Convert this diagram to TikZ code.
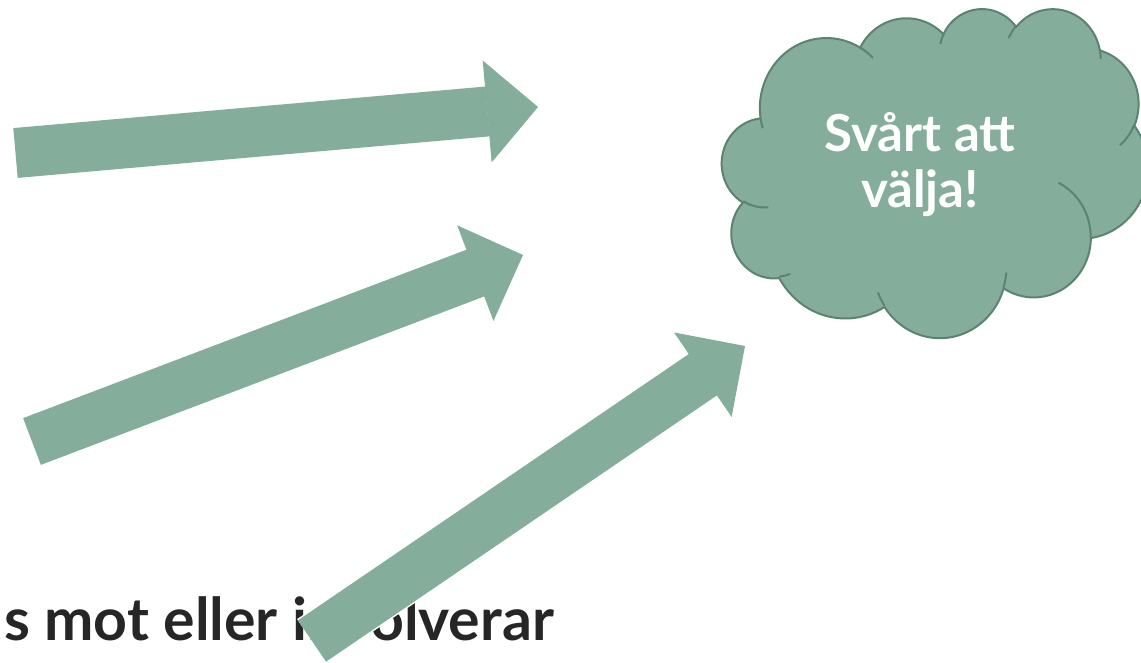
\documentclass[tikz,border=0pt]{standalone}
\usepackage{fontspec}
\setmainfont{Lato}
\usetikzlibrary{arrows.meta}
\definecolor{sage}{HTML}{84AD9C}
\definecolor{sagedark}{HTML}{5E8272}
\definecolor{ink}{HTML}{262626}
\newcommand\puff[4]{arc[x radius=#1,y radius=#2,
  start angle={atan2((#1)*sin(#3),(#2)*cos(#3))},
  delta angle={atan2((#1)*sin((#3)+(#4)),(#2)*cos((#3)+(#4)))-atan2((#1)*sin(#3),(#2)*cos(#3))-360*round((atan2((#1)*sin((#3)+(#4)),(#2)*cos((#3)+(#4)))-atan2((#1)*sin(#3),(#2)*cos(#3))-(#4))/360)}]}
\begin{document}
\begin{tikzpicture}[x=1pt,y=-1pt,
    bigarrow/.style={draw=sage,line width=50pt,-{Triangle[length=51pt,width=102pt,line width=1pt]},
      preaction={draw=white,line width=53pt,-{Triangle[length=53pt,width=106pt,line width=0pt]}}},
    cloudshape/.style={fill=sage,draw=sagedark,line width=2pt},
    puffline/.style={draw=sagedark,line width=2pt},
    bubble/.style={font=\bfseries\fontsize{51}{56}\selectfont,text=white,align=center},
    caption/.style={font=\bfseries\fontsize{59}{70}\selectfont,text=ink,anchor=base west,inner sep=0pt}
]
\useasboundingbox (0,0) rectangle (1141,663);
\clip (0,0) rectangle (1141,663);
\node[caption] (involve) at (4,640) {s mot eller involverar};

\begin{scope}[shift={(722,8)},x=0.9861pt,y=-0.7616pt]
\draw[cloudshape] (39,143.7)
  \puff{67.53}{91.90}{-190.4875}{123.7805}
  \puff{53.33}{72.67}{-144.1024}{89.9452}
  \puff{43.65}{59.45}{-145.8079}{99.7230}
  \puff{48.57}{65.95}{-130.9861}{117.2417}
  \puff{53.33}{72.73}{-78.7089}{109.0269}
  \puff{67.75}{92.20}{-46.2673}{130.2690}
  \puff{57.85}{78.67}{0.6250}{114.0333}
  \puff{67.52}{92.15}{22.4516}{115.1726}
  \puff{77.20}{105.43}{66.2426}{75.7110}
  \puff{43.60}{59.18}{-274.9421}{146.7356}
  \puff{43.45}{59.45}{-246.8285}{152.5189} -- cycle;
\draw[puffline]
  (46.93,261.77) \puff{43.45}{59.45}{86.7420}{26.4295}
  (69.28,348.99) \puff{43.60}{59.18}{73.6105}{11.4475}
  (164.78,390.90) \puff{67.52}{92.15}{137.6242}{14.0811}
  (288.27,347.51) \puff{67.52}{92.15}{6.4533}{15.9984}
  (341.29,229.54) \puff{57.85}{78.67}{-70.2924}{70.9174}
  (417.98,153.54) \puff{53.33}{72.73}{30.3180}{27.7515}
  (383.24,54.26) \puff{48.57}{65.95}{-13.7443}{14.8589}
  (290.78,39.52) \puff{48.57}{65.95}{-149.1815}{18.1954}
  (221.41,47.20) \puff{43.65}{59.45}{-163.4943}{17.6864}
  (140.00,51.92) \puff{67.53}{91.90}{-66.7070}{12.3194}
  (41.27,157.89) \puff{67.53}{91.90}{157.6544}{11.8582};
\end{scope}
\node[bubble] (choice) at (920,165) {Svårt att\\välja!};

\coordinate (tail1) at (15.5,153);
\coordinate (tip1) at (538,107);
\coordinate (tail2) at (32,441.5);
\coordinate (tip2) at (523,255);
\coordinate (tail3) at (312,641);
\coordinate (tip3) at (745,346);
\draw[bigarrow] (tail1) -- (tip1);
\draw[bigarrow] (tail2) -- (tip2);
\draw[bigarrow] (tail3) -- (tip3);
\end{tikzpicture}
\end{document}
